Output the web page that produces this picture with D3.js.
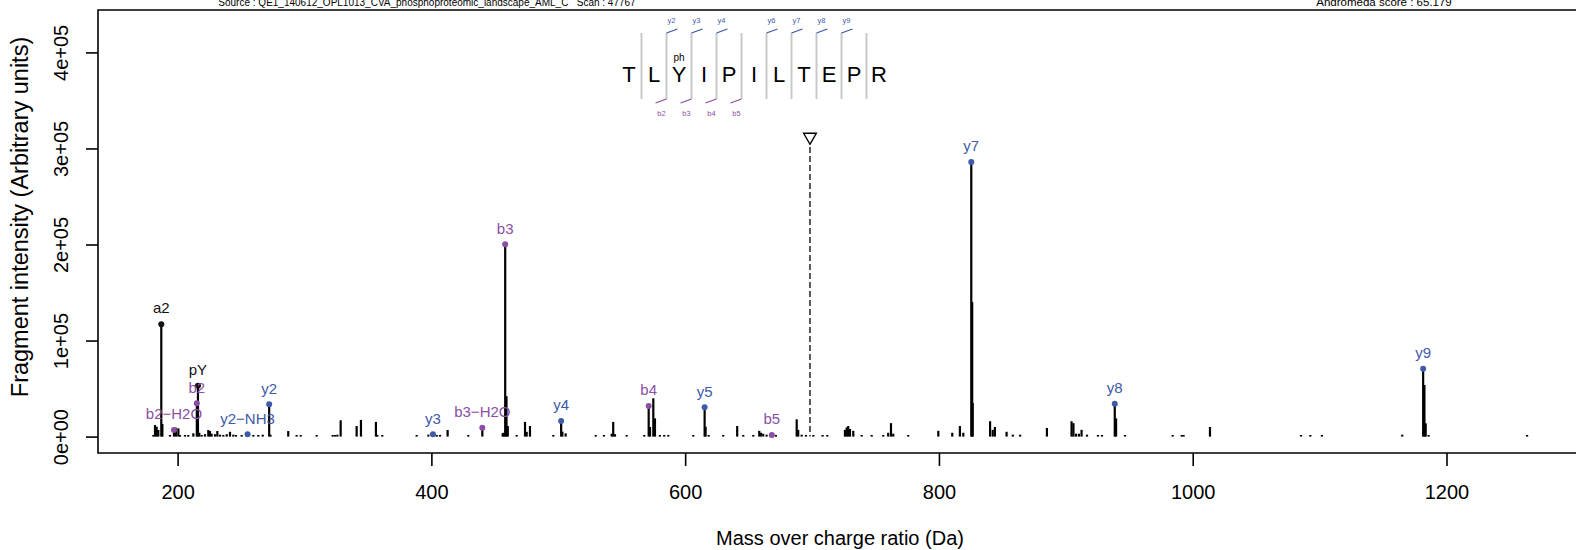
<!DOCTYPE html>
<html><head><meta charset="utf-8">
<script src="https://cdn.jsdelivr.net/npm/d3@7"></script>
<style>body{margin:0;background:#fff}svg{display:block;font-family:"Liberation Sans",Arial,Helvetica,sans-serif}</style>
</head><body><svg id="c" width="1576" height="550"></svg>
<script>
// ---------- data ----------
const sequence = ["T","L","Y","I","P","I","L","T","E","P","R"];
const modLabel = "ph";
const modIndex = 2;
const yMarkPos = [2,3,4,6,7,8,9];
const yMarkLabels = ["y2","y3","y4","y6","y7","y8","y9"];
const bMarkPos = [2,3,4,5];
const bMarkLabels = ["b2","b3","b4","b5"];

const ionMz = [187.144,216.042,215.139,197.129,255.145,272.172,401.214,440.158,458.169,502.262,571.253,615.346,668.306,825.483,938.567,1181.597];
const ionIntensity = [117000,53000,34700,6900,2400,33600,2400,9300,200200,16200,31900,30500,1700,286000,34200,70700];
const ionLabel = ["a2","pY","b2","b2\u2212H2O","y2\u2212NH3","y2","y3","b3\u2212H2O","b3","y4","b4","y5","b5","y7","y8","y9"];
const ionType = ["other","other","b","b","y","y","y","b","b","y","b","y","b","y","y","y"];

const peakMz = [180.9,182.2,183.5,184.8,188.0,194.0,198.7,200.6,201.9,205.8,208.4,212.4,217.1,219.0,221.6,224.2,225.5,226.8,229.5,231.3,233.4,236.0,238.7,241.3,243.9,246.0,250.5,259.7,263.6,267.1,273.2,287.2,293.8,297.0,309.6,322.2,324.0,325.9,328.5,341.1,344.5,356.3,357.4,361.3,388.4,397.6,404.2,406.8,412.8,429.1,456.2,457.0,459.2,460.2,467.2,473.8,475.1,477.7,496.1,503.2,505.8,529.5,536.0,542.1,543.3,544.7,553.9,567.8,572.3,574.9,576.2,580.1,583.5,586.7,606.4,616.1,618.5,630.0,641.0,645.8,653.7,658.4,659.7,661.5,664.2,671.5,687.9,689.1,691.8,695.2,701.0,708.3,712.0,725.9,727.3,728.5,729.9,732.5,739.1,747.0,756.1,760.0,762.2,764.0,775.8,799.5,810.5,816.5,819.2,826.2,826.6,840.3,842.4,844.1,853.3,858.2,864.0,885.1,904.5,906.0,908.0,910.3,912.4,916.7,925.3,928.5,939.6,946.6,984.2,991.3,992.8,1013.6,1085.3,1092.7,1101.8,1165.1,1182.6,1183.6,1185.9,1263.5];
const peakIntensity = [1700,12000,10300,6900,13100,1700,9300,8600,1700,1700,1700,3400,4000,1700,2500,6900,5800,3000,2500,5800,2000,1700,2500,5000,2000,1700,1700,1700,1700,2000,2000,5800,1700,1700,1700,1700,1700,2000,17000,11000,17400,15300,1700,1700,1700,2000,1700,1700,6900,1700,3400,4000,42000,11000,1700,15300,5000,11000,1700,5200,3400,1700,1700,3000,15300,2500,1700,1700,10000,39900,19000,1700,1700,1700,1700,10300,1700,1700,11000,1700,1700,6000,4000,3000,2000,1700,18000,7000,2000,1700,1700,1700,1700,7000,9600,11000,8000,6000,1700,1700,1700,4000,14000,3000,1700,6000,4000,11000,4000,140000,35000,16000,7000,10000,5000,2000,2000,9000,16000,14000,3000,3000,7000,2000,1700,1700,19000,1700,1700,1700,1700,10000,1700,1700,1700,2000,53700,13800,1700,1700];

const precursorMz = 698.368;
const precursorMarker = 312000;

const xTicks = [200,400,600,800,1000,1200];
const yTicks = [0,100000,200000,300000,400000];
const yTickLabels = ["0e+00","1e+05","2e+05","3e+05","4e+05"];
const headerSource = "Source : QE1_140612_OPL1013_CVA_phosphoproteomic_landscape_AML_C   Scan : 47767";
const headerScore = "Andromeda score : 65.179";
const xTitle = "Mass over charge ratio (Da)";
const yTitle = "Fragment intensity (Arbitrary units)";

// ---------- layout ----------
const colors = {y:"#3f5aa8", b:"#8a4fa3", other:"#111111"};
const frame = {left:98, top:10, bottom:453, right:1600};
const svg = d3.select("#c");
const x = d3.scaleLinear().domain([200,1200]).range([177.6,1446.5]);
const y = d3.scaleLinear().domain([0,400000]).range([436.6,52.4]);

// header
svg.append("text").attr("x",427).attr("y",6).attr("text-anchor","middle")
  .style("font-size","10px").attr("xml:space","preserve").text(headerSource);
svg.append("text").attr("x",1384).attr("y",6).attr("text-anchor","middle")
  .style("font-size","11.5px").text(headerScore);

// frame
svg.append("path").attr("d",`M${frame.right},${frame.top}H${frame.left}V${frame.bottom}H${frame.right}`)
  .attr("fill","none").attr("stroke","#000").attr("stroke-width",1.6);

// axes
const gx = svg.append("g").attr("transform",`translate(0,${frame.bottom})`)
  .call(d3.axisBottom(x).tickValues(xTicks).tickSize(13).tickPadding(0).tickFormat(d3.format("d")));
gx.select(".domain").remove();
gx.selectAll("line").attr("stroke","#000").attr("stroke-width",1.6);
gx.selectAll("text").attr("y",38.5).attr("dy","0.35em").style("font-size","20px").attr("fill","#000").style("font-family","inherit");

const gy = svg.append("g").attr("transform",`translate(${frame.left},0)`)
  .call(d3.axisLeft(y).tickValues(yTicks).tickSize(12).tickFormat((d,i)=>yTickLabels[i]));
gy.select(".domain").remove();
gy.selectAll("line").attr("stroke","#000").attr("stroke-width",1.6);
gy.selectAll("text").attr("x",0).attr("dy","0.35em").attr("text-anchor","middle")
  .attr("transform","translate(-37,0) rotate(-90)").style("font-size","20px").attr("fill","#000").style("font-family","inherit");

svg.append("text").attr("x",840).attr("y",538).attr("dy","0.35em").attr("text-anchor","middle")
  .style("font-size","20px").text(xTitle);
svg.append("text").attr("transform",`translate(20,217) rotate(-90)`).attr("dy","0.35em")
  .attr("text-anchor","middle").style("font-size","23.5px").text(yTitle);

// peaks
const peaks = peakMz.map((m,i)=>({m, v:peakIntensity[i]}));
svg.append("g").selectAll("line").data(peaks).join("line")
  .attr("x1",d=>x(d.m)).attr("x2",d=>x(d.m)).attr("y1",y(0)).attr("y2",d=>y(d.v))
  .attr("stroke","#000").attr("stroke-width",2.2);

const ions = ionMz.map((m,i)=>({m, v:ionIntensity[i], label:ionLabel[i], type:ionType[i]}));
svg.append("g").selectAll("line").data(ions).join("line")
  .attr("x1",d=>x(d.m)).attr("x2",d=>x(d.m)).attr("y1",y(0)).attr("y2",d=>y(d.v))
  .attr("stroke","#000").attr("stroke-width",2.2);
svg.append("g").selectAll("circle").data(ions).join("circle")
  .attr("cx",d=>x(d.m)).attr("cy",d=>y(d.v)).attr("r",3)
  .attr("fill",d=>colors[d.type]);
svg.append("g").selectAll("text").data(ions).join("text")
  .attr("x",d=>x(d.m)).attr("y",d=>y(d.v)-16).attr("dy","0.35em").attr("text-anchor","middle")
  .style("font-size","15px").attr("fill",d=>colors[d.type]).text(d=>d.label);

// precursor
const py = y(precursorMarker);
svg.append("line").attr("x1",x(precursorMz)).attr("x2",x(precursorMz)).attr("y1",py+10).attr("y2",y(0))
  .attr("stroke","#333").attr("stroke-width",1.6).attr("stroke-dasharray","6,3");
svg.append("path").attr("d",d3.symbol(d3.symbolTriangle,70)())
  .attr("transform",`translate(${x(precursorMz)},${py}) rotate(180)`)
  .attr("fill","none").attr("stroke","#000").attr("stroke-width",1.4);

// sequence map
const pos = d3.scalePoint().domain(d3.range(sequence.length)).range([629,879]);
const sep = k => (pos(k-1)+pos(k))/2;
const seqTop = 33, seqBot = 99, seqMid = 74;
svg.append("g").selectAll("line").data(d3.range(1,sequence.length)).join("line")
  .attr("x1",sep).attr("x2",sep).attr("y1",seqTop).attr("y2",seqBot)
  .attr("stroke","#c8c8c8").attr("stroke-width",2);
svg.append("g").selectAll("text").data(sequence).join("text")
  .attr("x",(d,i)=>pos(i)).attr("y",seqMid).attr("dy","0.35em").attr("text-anchor","middle")
  .style("font-size","22px").text(d=>d);
svg.append("text").attr("x",pos(modIndex)).attr("y",57).attr("dy","0.35em").attr("text-anchor","middle")
  .style("font-size","10px").text(modLabel);
const yg = svg.append("g");
yMarkPos.forEach((k,i)=>{
  yg.append("line").attr("x1",sep(k)).attr("y1",seqTop).attr("x2",sep(k)+11).attr("y2",seqTop-4)
    .attr("stroke",colors.y).attr("stroke-width",1.3);
  yg.append("text").attr("x",sep(k)+5).attr("y",20).attr("dy","0.35em").attr("text-anchor","middle")
    .style("font-size","7.5px").attr("fill",colors.y).text(yMarkLabels[i]);
});
bMarkPos.forEach((k,i)=>{
  yg.append("line").attr("x1",sep(k)).attr("y1",seqBot).attr("x2",sep(k)-11).attr("y2",seqBot+4)
    .attr("stroke",colors.b).attr("stroke-width",1.3);
  yg.append("text").attr("x",sep(k)-5).attr("y",113).attr("dy","0.35em").attr("text-anchor","middle")
    .style("font-size","7.5px").attr("fill",colors.b).text(bMarkLabels[i]);
});
</script></body></html>
